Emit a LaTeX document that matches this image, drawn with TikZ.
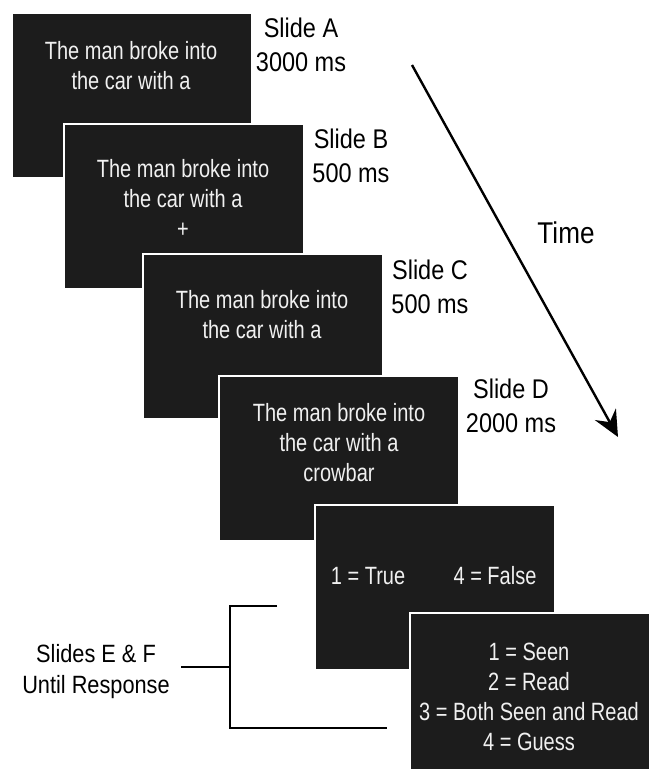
\documentclass[tikz,border=0pt]{standalone}
\usepackage{fontspec}
\setmainfont[FakeStretch=0.8]{Liberation Sans}
\newfontfamily\lblfont[FakeStretch=0.87]{Liberation Sans}
\usetikzlibrary{arrows.meta,positioning}
\definecolor{slidebg}{HTML}{1C1C1C}
\begin{document}
\begin{tikzpicture}[x=1pt,y=-1pt,
  slide/.style={draw=white,line width=1.5pt,fill=slidebg,anchor=north west,
    minimum width=240pt,minimum height=165pt,inner sep=0pt},
  slidetxt/.style={text=white!94!black,align=center,inner sep=0pt,
    font=\fontsize{25}{30}\selectfont},
  lbl/.style={align=center,inner sep=0pt,font=\lblfont\fontsize{27}{34}\selectfont}]
\useasboundingbox (0,0) rectangle (650,769);
\pgfmathsetmacro{\kbrx}{230}
% the six slides, A on top of the pile
\foreach \sname/\sx/\sy in {sa/11/12,sb/63/123,sc/142/253,sd/218/375,se/314/504,sf/409/612}{
  \node[slide] (\sname) at (\sx,\sy) {};}
\node[slidetxt] (ta) at (131,66) {The man broke into\\the car with a};
\node[slidetxt] (tb) at (183,198) {The man broke into\\the car with a\\+};
\node[slidetxt] (tc) at (262,315) {The man broke into\\the car with a};
\node[slidetxt] (td) at (339,443) {The man broke into\\the car with a\\crowbar};
\node[slidetxt] (te1) at (368,576) {1 = True};
\node[slidetxt] (te2) at (495,576) {4 = False};
\node[slidetxt] (tf) at (529,697) {1 = Seen\\2 = Read\\3 = Both Seen and Read\\4 = Guess};
% durations
\foreach \lname/\lx/\ly/\ltxt in {la/301/45/{Slide A\\3000 ms},lb/351/156/{Slide B\\500 ms},lc/430/287/{Slide C\\500 ms},ld/511/406/{Slide D\\2000 ms}}{
  \node[lbl] (\lname) at (\lx,\ly) {\ltxt};}
% time arrow
\coordinate (t0) at (412,65);
\coordinate (t1) at (618,437);
\draw[line width=2.4pt,-{Stealth[length=26pt,width=24pt,inset=9pt]}] (t0) -- (t1);
\node[lbl,font=\lblfont\fontsize{30}{36}\selectfont] (time) at (566,233) {Time};
% bracket for E and F
\node[lbl,font=\lblfont\fontsize{25}{31}\selectfont] (ef) at (96,672) {Slides E \& F\\Until Response};
\coordinate (btop) at (277,606);
\coordinate (bbot) at (387,728);
\coordinate (bmid) at (\kbrx,667);
\draw[line width=2pt] (btop) -- (\kbrx,606) -- (\kbrx,728) -- (bbot);
\draw[line width=2pt] (181,667) -- (bmid);
\end{tikzpicture}
\end{document}
